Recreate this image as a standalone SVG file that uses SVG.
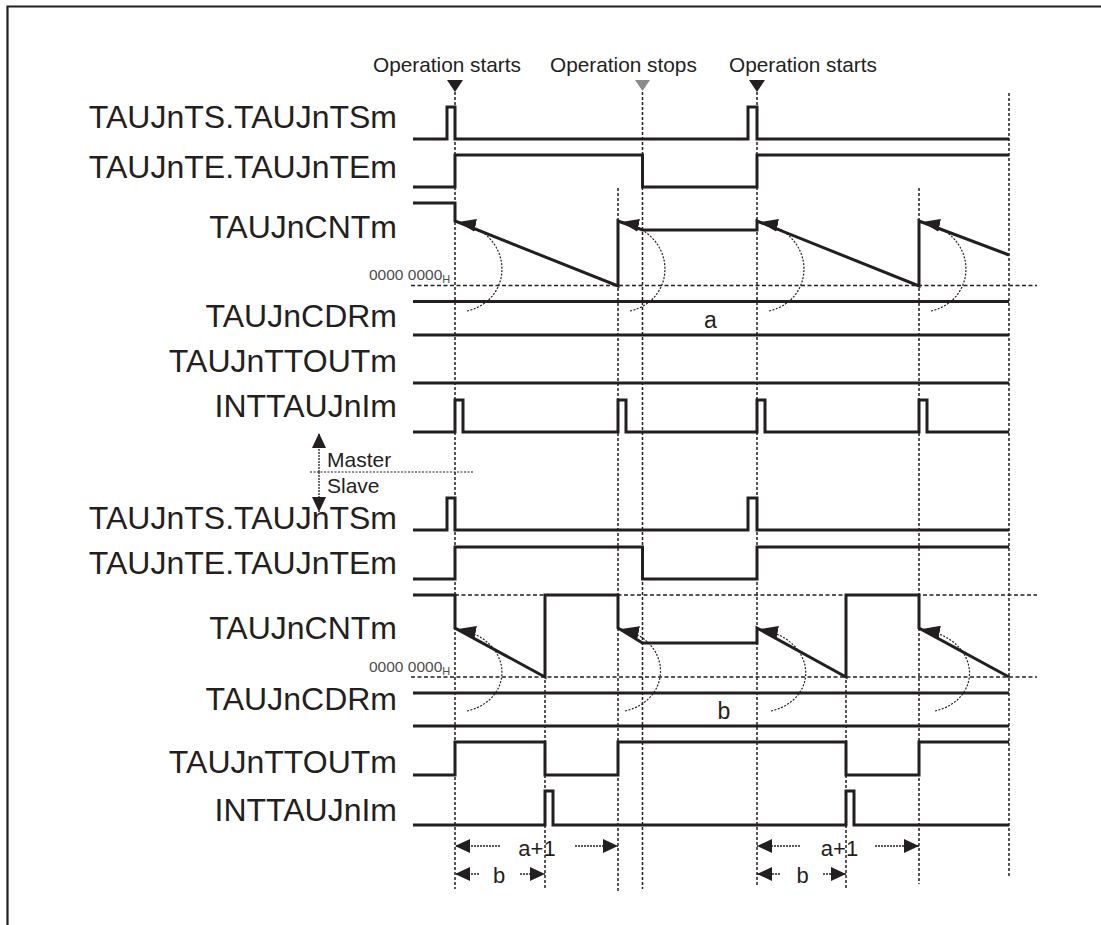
<svg xmlns="http://www.w3.org/2000/svg" width="1101" height="925" viewBox="0 0 1101 925">
<style>
.sig{fill:none;stroke:#231f20;stroke-width:3;stroke-linejoin:miter;stroke-linecap:butt}
.gv{fill:none;stroke:#231f20;stroke-width:1.5;stroke-dasharray:3 2}
.gh{fill:none;stroke:#231f20;stroke-width:1.5;stroke-dasharray:4 2.5}
.arc{fill:none;stroke:#231f20;stroke-width:1.2;stroke-dasharray:2 1.5;marker-end:url(#ah)}
.dim{fill:none;stroke:#231f20;stroke-width:1.3;stroke-dasharray:2 1;marker-end:url(#da)}
.lbl{font-family:"Liberation Sans",Arial,sans-serif;font-size:32px;fill:#231f20;text-anchor:end}
.op{font-family:"Liberation Sans",Arial,sans-serif;font-size:20.8px;fill:#231f20}
.sm{font-family:"Liberation Sans",Arial,sans-serif;font-size:21px;fill:#231f20}
.val{font-family:"Liberation Sans",Arial,sans-serif;font-size:23px;fill:#231f20;text-anchor:middle}
.dt{font-family:"Liberation Sans",Arial,sans-serif;font-size:22px;fill:#231f20;text-anchor:middle}
.zero{font-family:"Liberation Sans",Arial,sans-serif;font-size:15.5px;fill:#4d4d4d}
.sub{font-size:11px}
</style>
<defs>
<marker id="ah" markerUnits="userSpaceOnUse" markerWidth="18" markerHeight="13" refX="18" refY="6.5" orient="auto">
<path d="M0,0 L18,6.5 L0,13 z" fill="#231f20"/>
</marker>
<marker id="da" markerUnits="userSpaceOnUse" markerWidth="15" markerHeight="14" refX="15" refY="7" orient="auto">
<path d="M0,0 L15,7 L0,14 z" fill="#231f20"/>
</marker>
</defs>
<rect width="1101" height="925" fill="#ffffff"/>
<path d="M7.5,925 V6.5 H1101" fill="none" stroke="#231f20" stroke-width="2.2"/>

<g id="events">
<text class="op" x="373" y="72">Operation starts</text>
<text class="op" x="550" y="72">Operation stops</text>
<text class="op" x="729" y="72">Operation starts</text>
<polygon points="447,80 463,80 455,92" fill="#231f20"/>
<polygon points="635,80 650,80 642.5,91" fill="#8a8a8a"/>
<polygon points="749,80 765,80 757,92" fill="#231f20"/>
</g>

<g id="guides">
<line class="gv" x1="455" y1="92" x2="455" y2="889"/>
<line class="gv" x1="642.5" y1="92" x2="642.5" y2="889"/>
<line class="gv" x1="757" y1="92" x2="757" y2="887"/>
<line class="gv" x1="1009" y1="93" x2="1009" y2="878"/>
<line class="gv" x1="618" y1="188" x2="618" y2="891"/>
<line class="gv" x1="919" y1="188" x2="919" y2="884"/>
<line class="gv" x1="545" y1="595" x2="545" y2="890"/>
<line class="gv" x1="846" y1="595" x2="846" y2="890"/>
<line class="gh" x1="411" y1="285.5" x2="1037" y2="285.5"/>
<line class="gh" x1="455" y1="595" x2="1037" y2="595"/>
<line class="gh" x1="411" y1="677" x2="1037" y2="677"/>
<line x1="310" y1="472" x2="473" y2="472" stroke="#231f20" stroke-width="1.2" stroke-dasharray="2 1.5"/>
</g>

<g id="master-ts">
<text class="lbl" x="397" y="128">TAUJnTS.TAUJnTSm</text>
<path class="sig" d="M413,139 H447 V107 H455 V139 H748 V107 H757 V139 H1009"/>
</g>
<g id="master-te">
<text class="lbl" x="397" y="178">TAUJnTE.TAUJnTEm</text>
<path class="sig" d="M413,187 H455 V155 H642.5 V187 H757 V155 H1009"/>
</g>
<g id="master-cnt">
<text class="lbl" x="397" y="238">TAUJnCNTm</text>
<text class="zero" x="369" y="279.5">0000 0000<tspan class="sub" dy="3">H</tspan></text>
<path class="sig" d="M413,203 H455 V221 L618,286 V221 L642.5,230 H757 V221 L919,286 V221 L1009,255"/>
<path class="arc" d="M467,311 C515,300 515,233 458,222"/>
<path class="arc" d="M630,311 C678,300 678,233 621,222"/>
<path class="arc" d="M769,311 C817,300 817,233 760,222"/>
<path class="arc" d="M931,311 C979,300 979,233 922,222"/>
</g>
<g id="master-cdr">
<text class="lbl" x="397" y="327">TAUJnCDRm</text>
<path class="sig" d="M413,301.5 H1009 M413,335 H1009"/>
<text class="val" x="710.5" y="328">a</text>
</g>
<g id="master-ttout">
<text class="lbl" x="397" y="372">TAUJnTTOUTm</text>
<path class="sig" d="M413,383 H1009"/>
</g>
<g id="master-int">
<text class="lbl" x="397" y="417">INTTAUJnIm</text>
<path class="sig" d="M413,432 H455 V400 H463 V432 H618 V400 H626 V432 H757 V400 H765 V432 H919 V400 H927 V432 H1009"/>
</g>

<g id="master-slave">
<line class="dim" x1="319" y1="472" x2="319" y2="433"/>
<line class="dim" x1="319" y1="472" x2="319" y2="512"/>
<text class="sm" x="327" y="467">Master</text>
<text class="sm" x="327" y="493">Slave</text>
</g>

<g id="slave-ts">
<text class="lbl" x="397" y="529">TAUJnTS.TAUJnTSm</text>
<path class="sig" d="M413,530 H447 V498 H455 V530 H748 V498 H757 V530 H1009"/>
</g>
<g id="slave-te">
<text class="lbl" x="397" y="574">TAUJnTE.TAUJnTEm</text>
<path class="sig" d="M413,579 H455 V547 H642.5 V579 H757 V547 H1009"/>
</g>
<g id="slave-cnt">
<text class="lbl" x="397" y="639">TAUJnCNTm</text>
<text class="zero" x="369" y="671.5">0000 0000<tspan class="sub" dy="3">H</tspan></text>
<path class="sig" d="M413,595 H455 V628 L545,677 V595 H618 V628 L642.5,643 H757 V628 L846,677 V595 H919 V628 L1009,677"/>
<path class="arc" d="M467,711 C515,700 515,640 458,629"/>
<path class="arc" d="M625,711 C673,700 673,640 621,629"/>
<path class="arc" d="M771,711 C819,700 819,640 760,629"/>
<path class="arc" d="M935,711 C983,700 983,640 922,629"/>
</g>
<g id="slave-cdr">
<text class="lbl" x="397" y="710">TAUJnCDRm</text>
<path class="sig" d="M413,693 H1009 M413,726 H1009"/>
<text class="val" x="724" y="719">b</text>
</g>
<g id="slave-ttout">
<text class="lbl" x="397" y="773">TAUJnTTOUTm</text>
<path class="sig" d="M413,775 H455 V742 H545 V775 H618 V742 H846 V775 H919 V742 H1009"/>
</g>
<g id="slave-int">
<text class="lbl" x="397" y="821">INTTAUJnIm</text>
<path class="sig" d="M413,825 H545 V791 H553 V825 H846 V791 H854 V825 H1009"/>
</g>

<g id="dimensions">
<line class="dim" x1="500" y1="846" x2="455" y2="846"/>
<line class="dim" x1="575" y1="846" x2="618" y2="846"/>
<text class="dt" x="537" y="856">a+1</text>
<line class="dim" x1="479" y1="874" x2="455" y2="874"/>
<line class="dim" x1="520" y1="874" x2="545" y2="874"/>
<text class="dt" x="499" y="883">b</text>
<line class="dim" x1="800" y1="846" x2="757" y2="846"/>
<line class="dim" x1="875" y1="846" x2="919" y2="846"/>
<text class="dt" x="839.5" y="856">a+1</text>
<line class="dim" x1="780" y1="874" x2="757" y2="874"/>
<line class="dim" x1="823" y1="874" x2="846" y2="874"/>
<text class="dt" x="802.5" y="883">b</text>
</g>
</svg>
